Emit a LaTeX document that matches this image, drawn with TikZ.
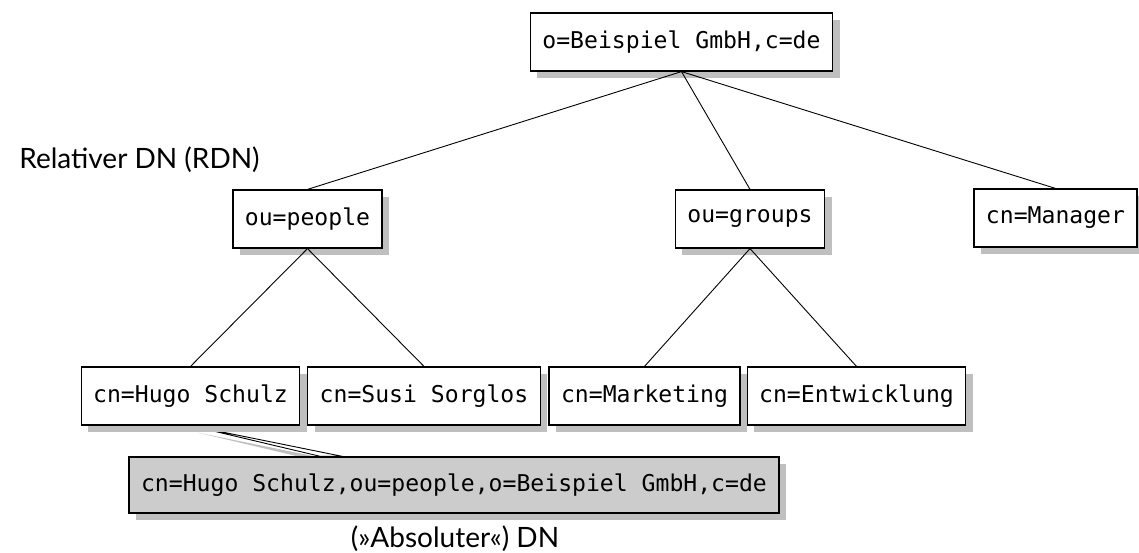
\documentclass[tikz,border=0pt]{standalone}
\usepackage{fontspec}
\setmainfont{Lato}
\newfontfamily\dnmono{DejaVu Sans Mono}
\usepackage{tikz}
\usetikzlibrary{shadows, backgrounds}
\definecolor{shadowgray}{RGB}{191,191,191}
\definecolor{dngray}{RGB}{204,204,204}

\begin{document}
\begin{tikzpicture}[x=1pt, y=-1pt,
    entry/.style={draw, line width=1.2pt, fill=white, inner xsep=12pt,
        minimum height=58pt, font=\dnmono\fontsize{23.1}{27}\selectfont,
        drop shadow={shadow xshift=7pt, shadow yshift=-7pt, fill=shadowgray, opacity=1}},
    fulldn/.style={entry, fill=dngray, minimum height=56pt},
    caption/.style={font=\fontsize{28}{32}\selectfont}]
    \useasboundingbox (0,0) rectangle (1139,553);

    % Baum
    \node[entry] (top) at (681.5,42) {o=Beispiel GmbH,c=de};
    \node[entry] (people) at (307.5,219) {ou=people};
    \node[entry] (groups) at (750,219) {ou=groups};
    \node[entry] (manager) at (1055.5,218) {cn=Manager};
    \node[entry] (hugo) at (190.5,396) {cn=Hugo Schulz};
    \node[entry] (susi) at (424,396) {cn=Susi Sorglos};
    \node[entry] (marketing) at (644.5,396) {cn=Marketing};
    \node[entry] (entwicklung) at (856.5,396) {cn=Entwicklung};

    \foreach \a/\b in {top/people, top/groups, top/manager, people/hugo,
        people/susi, groups/marketing, groups/entwicklung} {
        \draw[line width=0.9pt] (\a.south) -- (\b.north);
    }

    % voller DN mit Zeiger
    \node[fulldn] (dn) at (454,485) {cn=Hugo Schulz,ou=people,o=Beispiel GmbH,c=de};
    \begin{scope}[on background layer]
        \draw[line width=0.9pt, fill=white,
            drop shadow={shadow xshift=7pt, shadow yshift=-7pt, fill=shadowgray, opacity=1}]
            (hugo.south) -- ([xshift=192pt]dn.north west) -- ([xshift=214pt]dn.north west) -- cycle;
    \end{scope}

    % Beschriftungen
    \node[caption] (rdn) at (139.5,160) {Relativer DN (RDN)};
    \node[caption] (adn) at (455,539) {(»Absoluter«) DN};
\end{tikzpicture}
\end{document}
